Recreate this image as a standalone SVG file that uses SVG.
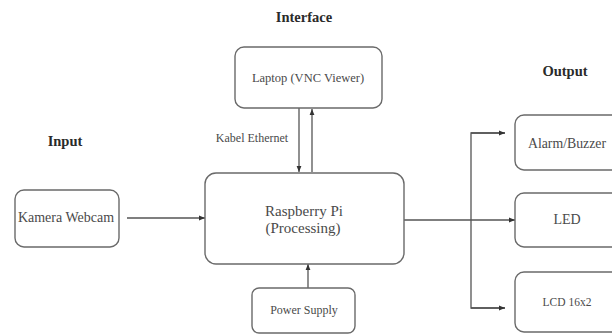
<svg xmlns="http://www.w3.org/2000/svg" width="612" height="334" viewBox="0 0 612 334">
<defs>
<style>
.box{fill:#fff;stroke:#6a6a6a;stroke-width:1.4}
.t{font-family:"Liberation Serif","Times New Roman",serif;font-size:12px;fill:#4a4a4a;text-anchor:middle}
.h{font-family:"Liberation Serif","Times New Roman",serif;font-size:14.5px;font-weight:bold;fill:#2a2a2a;text-anchor:middle}
.c{fill:none;stroke:#555;stroke-width:1.3}
</style>
<marker id="ah" viewBox="0 0 10 10" refX="10" refY="5" markerWidth="6" markerHeight="6" markerUnits="userSpaceOnUse" orient="auto">
<path d="M0,1 L10,5 L0,9 Z" fill="#333"/>
</marker>
</defs>
<rect width="612" height="334" fill="#fff"/>
<text class="h" x="304" y="22">Interface</text>
<text class="h" x="65" y="146">Input</text>
<text class="h" x="565" y="76">Output</text>
<g id="connectors">
<line class="c" x1="127" y1="218" x2="205" y2="218" marker-end="url(#ah)"/>
<line class="c" x1="299" y1="108" x2="299" y2="172" marker-end="url(#ah)"/>
<line class="c" x1="312" y1="172" x2="312" y2="109" marker-end="url(#ah)"/>
<line class="c" x1="308" y1="288" x2="308" y2="264" marker-end="url(#ah)"/>
<line class="c" x1="404" y1="220" x2="515" y2="220" marker-end="url(#ah)"/>
<polyline class="c" points="505,133 471,133 471,308 505,308"/>
<line class="c" x1="471" y1="133" x2="505" y2="133" marker-end="url(#ah)"/>
<line class="c" x1="471" y1="308" x2="505" y2="308" marker-end="url(#ah)"/>
<text class="t" x="252" y="142">Kabel Ethernet</text>
</g>
<g id="laptop"><rect class="box" x="235" y="47" width="147" height="61" rx="9"/><text class="t" x="308" y="82" style="font-size:12.5px">Laptop (VNC Viewer)</text></g>
<g id="kamera"><rect class="box" x="15" y="190" width="104" height="57" rx="9"/><text class="t" x="66" y="222" style="font-size:14px">Kamera Webcam</text></g>
<g id="rpi"><rect class="box" x="205" y="173" width="199" height="91" rx="11"/><text class="t" x="304" y="216" style="font-size:15px">Raspberry Pi</text><text class="t" x="303" y="233" style="font-size:15px">(Processing)</text></g>
<g id="power"><rect class="box" x="252" y="288" width="103" height="45" rx="7"/><text class="t" x="304" y="314">Power Supply</text></g>
<g id="alarm"><rect class="box" x="515" y="115" width="106" height="55" rx="9"/><text class="t" x="567" y="148" style="font-size:13.8px">Alarm/Buzzer</text></g>
<g id="led"><rect class="box" x="515" y="193" width="106" height="54" rx="9"/><text class="t" x="567" y="224" style="font-size:14px">LED</text></g>
<g id="lcd"><rect class="box" x="515" y="272" width="106" height="60" rx="9"/><text class="t" x="567" y="306" style="font-size:11.5px">LCD 16x2</text></g>
</svg>
